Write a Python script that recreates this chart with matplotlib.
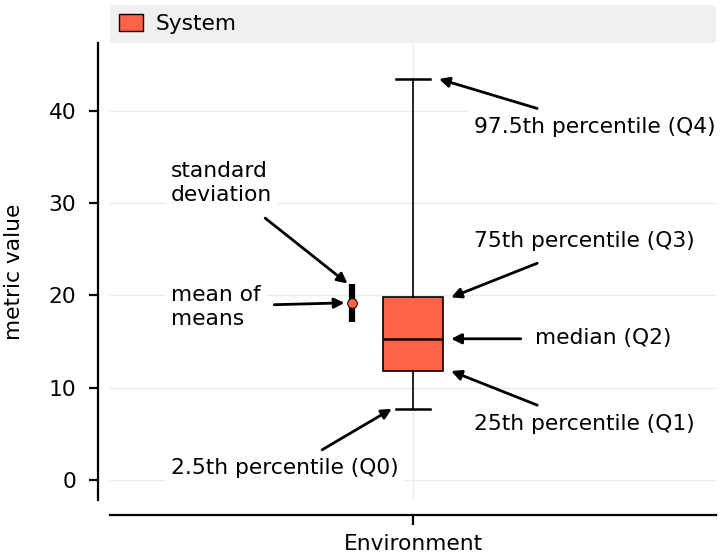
import matplotlib
matplotlib.use('Agg')
import matplotlib.pyplot as plt
from matplotlib.patches import Patch

# summary statistics of the metric
category = 'Environment'
series_name = 'System'
q0, q1, median, q3, q4 = 7.7, 11.8, 15.3, 19.8, 43.5
mean_of_means = 19.2
std_dev = 2.1

BOX_COLOR = 'tomato'
FS = 15.7

plt.rcParams['font.family'] = 'DejaVu Sans'
plt.rcParams['font.size'] = FS

fig = plt.figure(figsize=(7.21, 5.59), dpi=100)
ax = fig.add_axes([0.1526, 0.1055, 0.8404, 0.8175])

stats = [{'whislo': q0, 'q1': q1, 'med': median, 'q3': q3, 'whishi': q4, 'fliers': []}]
ax.bxp(stats, positions=[0], widths=0.1, capwidths=0.056, patch_artist=True,
       showfliers=False,
       boxprops=dict(facecolor=BOX_COLOR, edgecolor='black', linewidth=1.2),
       medianprops=dict(color='black', linewidth=1.8),
       whiskerprops=dict(color='black', linewidth=1.2),
       capprops=dict(color='black', linewidth=1.8), zorder=3)

# mean with standard deviation, drawn left of the box
mean_x = -0.1
ax.errorbar([mean_x], [mean_of_means], yerr=[std_dev], fmt='o', color='black',
            ecolor='black', elinewidth=4.5, capsize=0, markersize=7,
            markerfacecolor=BOX_COLOR, markeredgecolor='black', markeredgewidth=0.7,
            zorder=4)

ax.set_xlim(-0.5, 0.5)
ax.set_ylim(-2.2, 47.4)
ax.set_xticks([0])
ax.set_xticklabels([category])
ax.set_yticks([0, 10, 20, 30, 40])
ax.set_ylabel('metric value')
ax.yaxis.set_label_coords(-0.142, 0.5)

ax.grid(True, color='#ececec', linewidth=1.0, zorder=0)
ax.set_axisbelow(True)
for s in ['top', 'right']:
    ax.spines[s].set_visible(False)
ax.spines['left'].set_position(('outward', 8.6))
ax.spines['bottom'].set_position(('outward', 10.8))
for s in ['left', 'bottom']:
    ax.spines[s].set_linewidth(1.6)
ax.tick_params(axis='y', width=1.6, length=6.5, pad=9)
ax.tick_params(axis='x', width=1.6, length=7.5, pad=6.5)

# annotation labels and arrows
txt_kw = dict(ha='left', va='center', fontsize=FS, zorder=2,
              bbox=dict(facecolor='white', edgecolor='none', pad=4))
arrow_kw = dict(arrowstyle='-|>', color='black', lw=2.0, mutation_scale=15,
                shrinkA=0, shrinkB=0)

labels = [
    ('97.5th percentile (Q4)', (0.101, 38.3), (0.205, 40.3), (0.043, q4)),
    ('standard\ndeviation', (-0.399, 32.2), (-0.244, 28.4), (-0.108, mean_of_means + std_dev)),
    ('mean of\nmeans', (-0.399, 18.75), (-0.229, 19.0), (-0.113, mean_of_means)),
    ('2.5th percentile (Q0)', (-0.399, 1.3), (-0.150, 3.25), (-0.035, q0)),
    ('75th percentile (Q3)', (0.101, 25.9), (0.205, 23.5), (0.063, q3)),
    ('median (Q2)', (0.201, 15.4), (0.178, median), (0.063, median)),
    ('25th percentile (Q1)', (0.101, 6.07), (0.205, 8.1), (0.063, q1)),
]
for text, pos, tail, head in labels:
    ax.text(pos[0], pos[1], text, **txt_kw)
    ax.annotate('', xy=head, xytext=tail, arrowprops=arrow_kw, zorder=5)

leg = ax.legend(handles=[Patch(facecolor=BOX_COLOR, edgecolor='black', label=series_name)],
                loc='lower left', bbox_to_anchor=(0, 1.0, 1, 0.05), mode='expand',
                borderaxespad=0, frameon=True, fancybox=True, handlelength=1.1,
                handleheight=0.85, handletextpad=0.6, fontsize=FS)
leg.get_frame().set_facecolor('#f0f0f0')
leg.get_frame().set_edgecolor('none')
leg.get_frame().set_alpha(1)

fig.savefig('out.png', dpi=100)
